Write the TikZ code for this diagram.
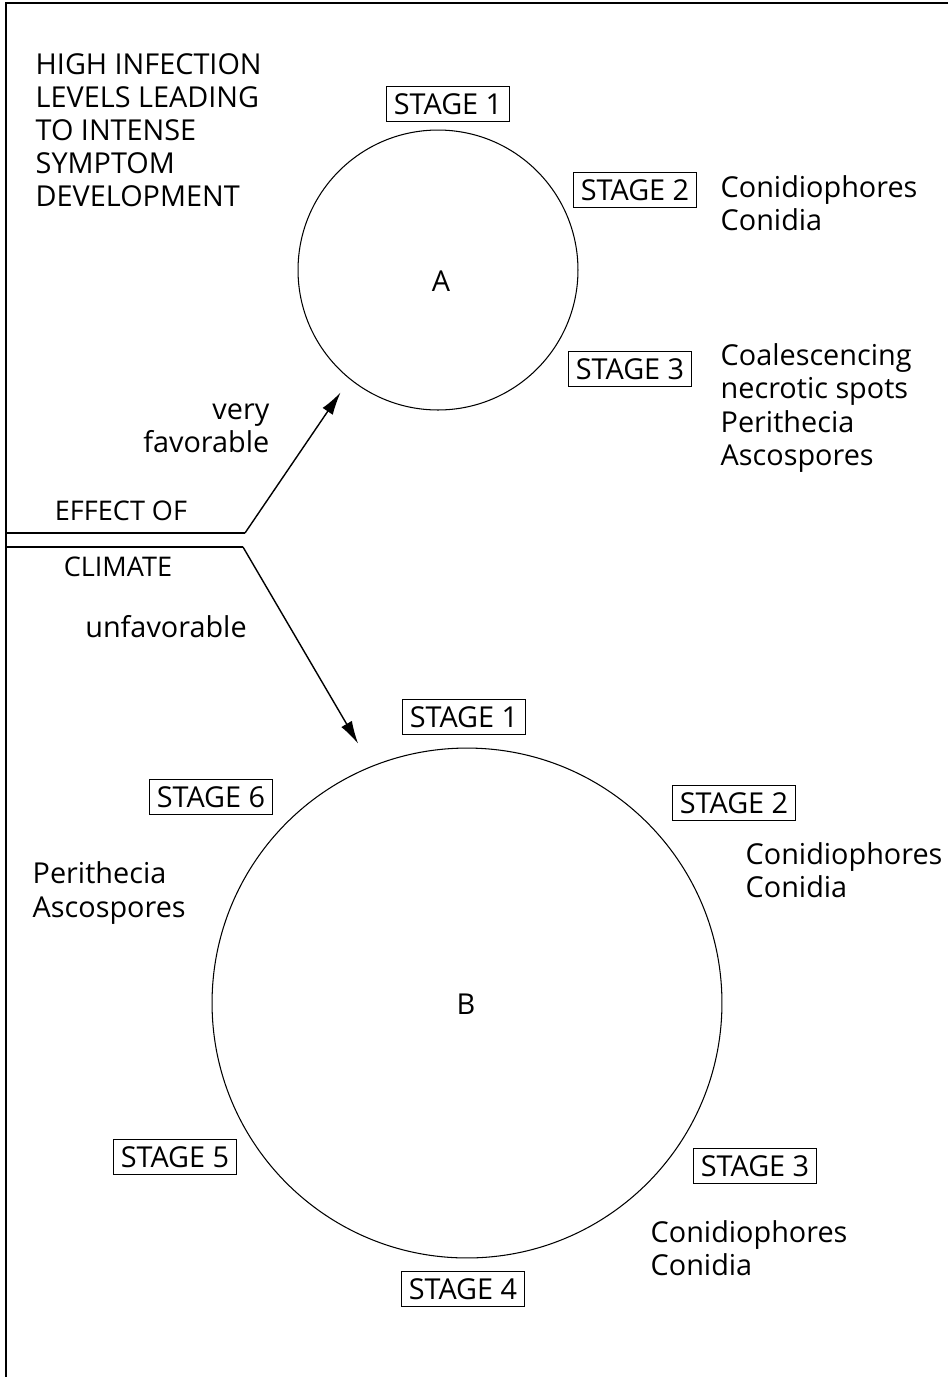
\documentclass[tikz,border=0pt]{standalone}
\usepackage{fontspec}
\setmainfont{Open Sans}
\usepackage{tikz}
\usetikzlibrary{arrows.meta}

\begin{document}
\fontsize{16.4}{18.8}\selectfont
\begin{tikzpicture}[x=0.02cm, y=-0.02cm,
    stagebox/.style={draw, line width=0.6pt, inner xsep=0.15cm, inner ysep=0, minimum height=0.7cm},
    note/.style={anchor=west, align=left, inner sep=0},
    ring/.style={circle, draw, line width=0.6pt, inner sep=0},
    forklabel/.style={inner sep=0, font=\fontsize{15.4}{18}\selectfont},
    every path/.style={line width=0.8pt}]
\useasboundingbox (0,0) rectangle (948,1377);
\draw (948,3) -- (6,3) -- (6,1377);

% upper cycle
\node[note](title) at (35,130) {HIGH INFECTION\\LEVELS LEADING\\TO INTENSE\\SYMPTOM\\DEVELOPMENT};
\node[ring, minimum size=5.6cm](A) at (438,270) {};
\node(Alab) at (441,281) {A};
\node[stagebox](a1) at (448,104) {STAGE 1};
\node[stagebox](a2) at (635,190) {STAGE 2};
\node[note](a2txt) at (720,203) {Conidiophores\\Conidia};
\node[stagebox](a3) at (630,369) {STAGE 3};
\node[note](a3txt) at (720,408) {Coalescencing\\necrotic spots\\Perithecia\\Ascospores};

% lower cycle
\node[ring, minimum size=10.2cm](B) at (467,1003) {};
\node(Blab) at (466,1004) {B};
\node[stagebox](b1) at (464,717) {STAGE 1};
\node[stagebox](b2) at (734,803) {STAGE 2};
\node[note](b2txt) at (745,870) {Conidiophores\\Conidia};
\node[stagebox](b3) at (755,1166) {STAGE 3};
\node[note](b3txt) at (650,1248) {Conidiophores\\Conidia};
\node[stagebox](b4) at (463,1289) {STAGE 4};
\node[stagebox](b5) at (175,1157) {STAGE 5};
\node[stagebox](b6) at (211,797) {STAGE 6};
\node[note](b6txt) at (32,893) {Perithecia\\Ascospores};

% climate fork
\node[align=right, inner sep=0, anchor=east](fav) at (270,428) {very\\favorable};
\node[forklabel](eff) at (121,511) {EFFECT OF};
\node[forklabel](clim) at (118,567) {CLIMATE};
\node[inner sep=0](unfav) at (166,627) {unfavorable};
\coordinate (forkup) at (245,533);
\coordinate (forkdown) at (243,547);
\draw (6,533) -- (forkup);
\draw (6,547) -- (forkdown);
\draw[-{Latex[length=13pt, width=7pt]}, shorten >=0.32cm] (forkup) -- (A.231);
\draw[-{Latex[length=13pt, width=7pt]}, shorten >=0.52cm] (forkdown) -- (B.112);
\end{tikzpicture}
\end{document}
